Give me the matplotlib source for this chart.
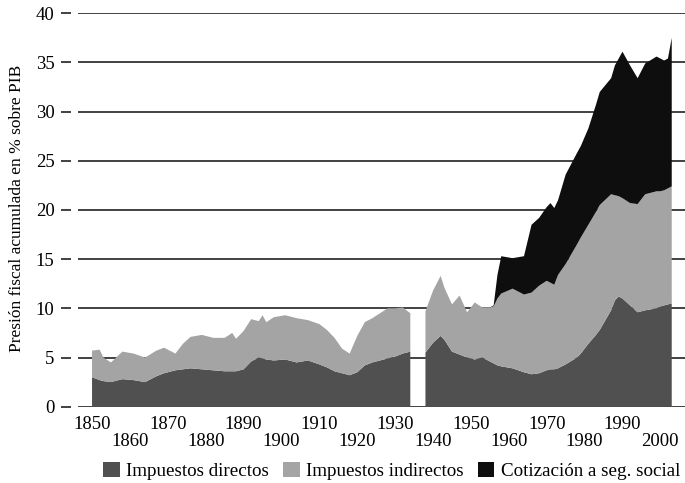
import matplotlib
matplotlib.use("Agg")
import matplotlib.pyplot as plt
from matplotlib.patches import Patch

plt.rcParams["font.family"] = ["Liberation Serif", "DejaVu Serif"]

# --- data, % of GDP ---
# first period 1850-1934
years_1 = [1850, 1852, 1853, 1855, 1858, 1861, 1864, 1867, 1869, 1872,
           1874, 1876, 1879, 1882, 1885, 1887, 1888, 1890, 1892, 1894,
           1895, 1896, 1898, 1901, 1904, 1907, 1910, 1912, 1914, 1916,
           1918, 1920, 1922, 1924, 1926, 1928, 1930, 1932, 1934]
directos_1 = [3.0, 2.7, 2.6, 2.5, 2.8, 2.7, 2.5, 3.1, 3.4, 3.7,
              3.8, 3.9, 3.8, 3.7, 3.6, 3.6, 3.6, 3.8, 4.6, 5.0,
              4.9, 4.8, 4.7, 4.8, 4.5, 4.7, 4.3, 4.0, 3.6, 3.4,
              3.2, 3.5, 4.2, 4.5, 4.7, 4.9, 5.1, 5.4, 5.6]
indirectos_1 = [2.7, 3.1, 2.4, 2.0, 2.8, 2.7, 2.5, 2.6, 2.6, 1.7,
                2.6, 3.2, 3.5, 3.3, 3.4, 3.9, 3.3, 3.9, 4.3, 3.7,
                4.4, 3.8, 4.4, 4.5, 4.5, 4.1, 4.1, 3.8, 3.4, 2.5,
                2.2, 3.7, 4.4, 4.5, 4.8, 5.1, 4.9, 4.7, 3.9]
social_1 = [0.0] * len(years_1)

# second period 1938-2003 (gap for the civil war years)
years_2 = [1938, 1940, 1942, 1943, 1945, 1947, 1949, 1951, 1953, 1955,
           1956, 1957, 1958, 1961, 1964, 1966, 1968, 1970, 1971, 1972,
           1973, 1975, 1978, 1979, 1981, 1983, 1984, 1987, 1988, 1989,
           1990, 1992, 1994, 1996, 1999, 2000, 2001, 2002, 2003]
directos_2 = [5.5, 6.5, 7.2, 6.8, 5.6, 5.3, 5.0, 4.8, 5.0, 4.6,
              4.4, 4.2, 4.1, 3.9, 3.5, 3.3, 3.4, 3.7, 3.8, 3.8,
              3.9, 4.3, 5.0, 5.4, 6.4, 7.3, 7.8, 9.8, 10.8, 11.2,
              11.0, 10.3, 9.6, 9.8, 10.0, 10.2, 10.3, 10.4, 10.5]
indirectos_2 = [4.2, 5.3, 6.1, 5.3, 4.8, 6.0, 4.6, 5.8, 5.1, 5.5,
                5.8, 6.8, 7.4, 8.1, 7.9, 8.3, 8.9, 9.1, 8.8, 8.6,
                9.5, 10.2, 11.5, 11.8, 12.1, 12.5, 12.7, 11.8, 10.7, 10.2,
                10.2, 10.4, 11.0, 11.8, 11.9, 11.7, 11.7, 11.8, 11.9]
social_2 = [0.0, 0.0, 0.0, 0.0, 0.0, 0.0, 0.0, 0.0, 0.0, 0.0,
            0.1, 2.4, 3.8, 3.1, 3.9, 6.9, 6.9, 7.5, 8.1, 7.8,
            7.6, 9.1, 9.3, 9.3, 9.8, 10.9, 11.5, 11.8, 13.2, 14.0,
            14.9, 14.0, 12.8, 13.3, 13.7, 13.5, 13.2, 13.2, 15.1]

labels = ["Impuestos directos", "Impuestos indirectos", "Cotización a seg. social"]
colors = ["#505050", "#a4a4a4", "#0e0e0e"]

fig = plt.figure(figsize=(6.85, 4.83), dpi=100)
ax = fig.add_axes([0.1139, 0.158, 0.8861, 0.8145])

for yrs, d, i, s in [(years_1, directos_1, indirectos_1, social_1),
                     (years_2, directos_2, indirectos_2, social_2)]:
    ax.stackplot(yrs, d, i, s, colors=colors, linewidth=0, zorder=2)

ax.set_xlim(1846.3, 2006.5)
ax.set_ylim(0, 40)

# horizontal rules behind the areas
ax.set_yticks(range(0, 41, 5))
ax.yaxis.grid(True, color="#333333", linewidth=1.3, zorder=0)
ax.set_axisbelow(True)

for side in ["top", "right", "bottom", "left"]:
    ax.spines[side].set_visible(False)
ax.spines["left"].set_position(("outward", 5))

ax.tick_params(axis="y", length=7, width=1.3, color="#333333",
               labelsize=13.5, pad=5)

# staggered year labels: two rows
ax.set_xticks(range(1850, 2001, 20))
ax.set_xticks(range(1860, 2001, 20), minor=True)
ax.set_xticklabels([str(y) for y in range(1850, 2001, 20)])
ax.set_xticklabels([str(y) for y in range(1860, 2001, 20)], minor=True)
ax.tick_params(axis="x", which="major", length=0, labelsize=13.5, pad=7)
ax.tick_params(axis="x", which="minor", length=0, labelsize=13.5, pad=19)

ax.set_ylabel("Presión fiscal acumulada en % sobre PIB", fontsize=12.5)
ax.yaxis.set_label_coords(-0.0873, 0.505)

handles = [Patch(facecolor=c, edgecolor="none") for c in colors]
fig.legend(handles, labels, loc="center", bbox_to_anchor=(0.572, 0.025),
           ncol=3, frameon=False, fontsize=13.7, handlelength=0.85,
           handleheight=0.8, handletextpad=0.35, columnspacing=0.75)

fig.savefig("out.png", dpi=100)
